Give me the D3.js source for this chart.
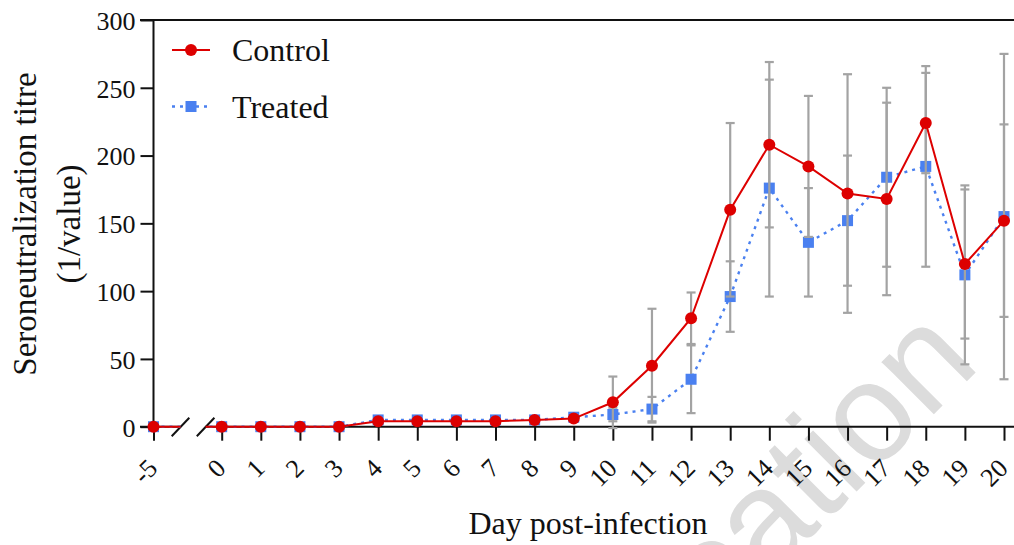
<!DOCTYPE html>
<html>
<head>
<meta charset="utf-8">
<script src="https://cdn.jsdelivr.net/npm/d3@7"></script>
<style>
  html, body { margin: 0; padding: 0; background: #fff; }
  svg { display: block; }
  text { font-family: "Liberation Serif", "Times New Roman", serif; fill: #111; }
</style>
</head>
<body>
<svg id="chart" width="1014" height="545"></svg>
<script>
// Days post-infection (day -5 sits left of an axis break)
const days = [-5, 0, 1, 2, 3, 4, 5, 6, 7, 8, 9, 10, 11, 12, 13, 14, 15, 16, 17, 18, 19, 20];
const dayLabels = ["-5", "0", "1", "2", "3", "4", "5", "6", "7", "8", "9", "10", "11", "12", "13", "14", "15", "16", "17", "18", "19", "20"];

// Mean seroneutralization titre and SD per group
const controlMean = [0, 0, 0, 0, 0, 4, 4, 4, 4, 5, 6, 18, 45, 80, 160, 208, 192, 172, 168, 224, 120, 152];
const controlSD   = [0, 0, 0, 0, 0, 1, 1, 1, 1, 1, 1, 19, 42, 19, 64, 61, 52, 88, 71, 37, 55, 71];
const treatedMean = [0, 0, 0, 0, 0, 5, 5, 5, 5, 5, 7, 9, 13, 35, 96, 176, 136, 152, 184, 192, 112, 155];
const treatedSD   = [0, 0, 0, 0, 0, 1, 1, 1, 1, 1, 1, 5, 9, 25, 26, 80, 40, 48, 66, 74, 66, 120];

const yTicks = [0, 50, 100, 150, 200, 250, 300];
const seriesNames = ["Control", "Treated"];

const svg = d3.select("#chart");
const W = 1014;

// piecewise x scale: -5 .. break .. 0 .. 20
const x = d3.scaleLinear().domain([-5, 0, 20]).range([153.5, 221.7, 1004]);
const y = d3.scaleLinear().domain([0, 300]).range([426.7, 20]);
const gapL = 180.5, gapR = 205.6;

const red = "#dd0000", blue = "#4a80f0", grey = "#a3a3a3";

// clip that removes the axis-break gap from the data lines
const defs = svg.append("defs");
const clip = defs.append("clipPath").attr("id", "breakClip");
clip.append("rect").attr("x", 0).attr("y", 0).attr("width", gapL).attr("height", 545);
clip.append("rect").attr("x", gapR).attr("y", 0).attr("width", W - gapR).attr("height", 545);

// watermark
svg.append("text")
  .attr("transform", "translate(982,366) rotate(-45)")
  .attr("text-anchor", "end")
  .style("font-family", "'Liberation Sans', Arial, sans-serif")
  .style("font-size", "140px")
  .style("fill", "#dcdcdc")
  .text("publication");

// axes
const axisG = svg.append("g");
// top frame line
axisG.append("line").attr("x1", 140).attr("x2", W).attr("y1", y(300)).attr("y2", y(300))
  .attr("stroke", "#111").attr("stroke-width", 2);

const yAxis = d3.axisLeft(y).tickValues(yTicks).tickSize(13).tickPadding(5).tickFormat(d3.format("d"));
const gy = axisG.append("g").attr("transform", `translate(${x(-5)},0)`).call(yAxis);
gy.select(".domain").attr("stroke", "#111").attr("stroke-width", 2).attr("d", `M0,${y(300)}V${y(0)}`);
gy.selectAll(".tick line").attr("stroke", "#111").attr("stroke-width", 2);
gy.selectAll(".tick text").style("font-family", "'Liberation Serif', serif").style("font-size", "26px").attr("fill", "#111").attr("dy", "0.36em");

const xAxis = d3.axisBottom(x).tickValues(days).tickSize(14).tickFormat((d, i) => dayLabels[i]);
const gx = axisG.append("g").attr("transform", `translate(0,${y(0)})`).call(xAxis);
gx.select(".domain").remove();
gx.selectAll(".tick line").attr("stroke", "#111").attr("stroke-width", 2);
gx.selectAll(".tick text")
  .style("font-family", "'Liberation Serif', serif").style("font-size", "26px").attr("fill", "#111")
  .attr("text-anchor", "end").attr("y", 0).attr("dy", 0)
  .attr("transform", "translate(5,43) rotate(-45)");
// x axis line with break
gx.append("line").attr("x1", 140).attr("x2", gapL).attr("y1", 0).attr("y2", 0).attr("stroke", "#111").attr("stroke-width", 2);
gx.append("line").attr("x1", gapR).attr("x2", W).attr("y1", 0).attr("y2", 0).attr("stroke", "#111").attr("stroke-width", 2);
// break marks
[gapL, gapR].forEach(cx => {
  gx.append("line").attr("x1", cx - 8.8).attr("y1", 9.5).attr("x2", cx + 8.8).attr("y2", -9)
    .attr("stroke", "#111").attr("stroke-width", 2);
});

// series data
const control = days.map((d, i) => ({ day: d, v: controlMean[i], sd: controlSD[i] }));
const treated = days.map((d, i) => ({ day: d, v: treatedMean[i], sd: treatedSD[i] }));

const line = d3.line().x(d => x(d.day)).y(d => y(d.v));

function errorBars(data) {
  const g = svg.append("g").attr("stroke", grey).attr("stroke-width", 2.2).attr("fill", "none");
  data.filter(d => d.sd > 0).forEach(d => {
    const cx = x(d.day), y1 = y(d.v + d.sd), y2 = y(d.v - d.sd);
    g.append("line").attr("x1", cx).attr("x2", cx).attr("y1", y1).attr("y2", y2);
    g.append("line").attr("x1", cx - 4.5).attr("x2", cx + 4.5).attr("y1", y1).attr("y2", y1);
    g.append("line").attr("x1", cx - 4.5).attr("x2", cx + 4.5).attr("y1", y2).attr("y2", y2);
  });
}

// treated group
errorBars(treated);
svg.append("path").datum(treated).attr("d", line).attr("clip-path", "url(#breakClip)")
  .attr("fill", "none").attr("stroke", blue).attr("stroke-width", 2.4).attr("stroke-dasharray", "3,5");
svg.append("g").selectAll("rect").data(treated).join("rect")
  .attr("x", d => x(d.day) - 5.5).attr("y", d => y(d.v) - 5.5)
  .attr("width", 11).attr("height", 11).attr("fill", blue);

// control group
errorBars(control);
svg.append("path").datum(control).attr("d", line).attr("clip-path", "url(#breakClip)")
  .attr("fill", "none").attr("stroke", red).attr("stroke-width", 2);
svg.append("g").selectAll("circle").data(control).join("circle")
  .attr("cx", d => x(d.day)).attr("cy", d => y(d.v)).attr("r", 6).attr("fill", red);

// legend
const lg = svg.append("g");
const legendRows = [
  { name: seriesNames[0], color: red, dash: null, y: 50 },
  { name: seriesNames[1], color: blue, dash: "3,5", y: 106.5 }
];
legendRows.forEach((r, i) => {
  lg.append("line").attr("x1", 172).attr("x2", 210).attr("y1", r.y).attr("y2", r.y)
    .attr("stroke", r.color).attr("stroke-width", i === 0 ? 2 : 2.4)
    .attr("stroke-dasharray", r.dash);
  if (i === 0) lg.append("circle").attr("cx", 191).attr("cy", r.y).attr("r", 6).attr("fill", r.color);
  else lg.append("rect").attr("x", 185.5).attr("y", r.y - 5.5).attr("width", 11).attr("height", 11).attr("fill", r.color);
  lg.append("text").attr("x", 232).attr("y", r.y + 11).style("font-size", "32px").text(r.name);
});

// axis titles
svg.append("text").attr("x", 588).attr("y", 534).attr("text-anchor", "middle")
  .style("font-size", "32px").text("Day post-infection");
const yt = svg.append("text").attr("transform", "translate(36,224) rotate(-90)").attr("text-anchor", "middle")
  .style("font-size", "33px");
yt.append("tspan").attr("x", 0).attr("y", 0).text("Seroneutralization titre");
yt.append("tspan").attr("x", 0).attr("y", 44).text("(1/value)");
</script>
</body>
</html>
